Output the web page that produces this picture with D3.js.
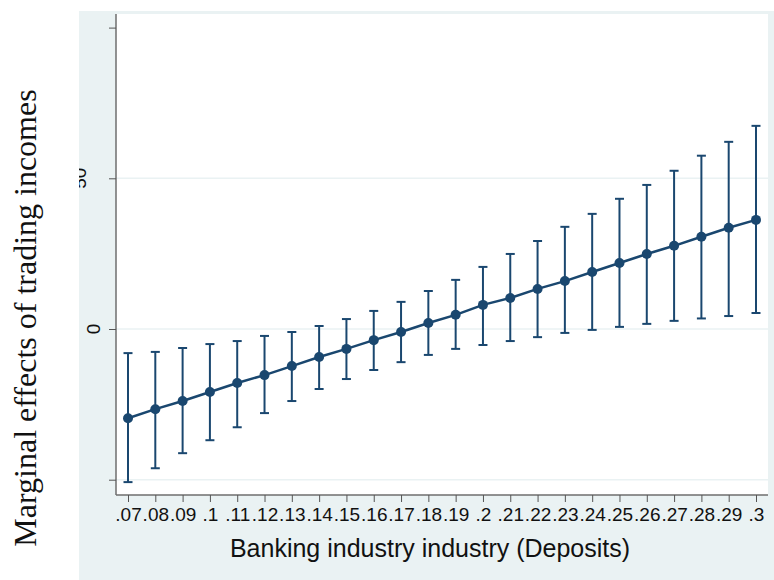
<!DOCTYPE html>
<html>
<head>
<meta charset="utf-8">
<script src="https://cdn.jsdelivr.net/npm/d3@7"></script>
<style>
  body { margin: 0; background: #fff; }
  svg { display: block; }
</style>
</head>
<body>
<script>
// deposit share values on the x axis
var deposits = [.07, .08, .09, .10, .11, .12, .13, .14, .15, .16, .17, .18,
                .19, .20, .21, .22, .23, .24, .25, .26, .27, .28, .29, .30];
var tickLabels = [".07", ".08", ".09", ".1", ".11", ".12", ".13", ".14", ".15", ".16", ".17", ".18",
                  ".19", ".2", ".21", ".22", ".23", ".24", ".25", ".26", ".27", ".28", ".29", ".3"];
// marginal effect and its confidence band
var effect = [-29.6, -26.6, -23.9, -20.9, -17.9, -15.3, -12.3, -9.3, -6.6, -3.7, -1.0, 2.0,
              4.7, 8.0, 10.3, 13.3, 15.9, 18.9, 21.9, 24.9, 27.6, 30.6, 33.6, 36.2];
var upper = [-8.0, -7.6, -6.3, -5.0, -4.0, -2.3, -1.0, 1.0, 3.3, 6.0, 9.0, 12.6,
             16.3, 20.6, 24.9, 29.2, 33.9, 38.2, 43.2, 47.8, 52.5, 57.5, 62.1, 67.4];
var lower = [-50.8, -46.2, -41.2, -36.9, -32.6, -27.9, -23.9, -19.9, -16.6, -13.6, -11.0, -8.6,
             -6.6, -5.3, -4.0, -2.7, -1.3, -0.3, 0.7, 1.7, 2.7, 3.5, 4.3, 5.3];
var yTicks = [-50, 0, 50, 100];
var yGrid = [-50, 0, 50];

var width = 774, height = 580;
var navy = "#1a476f", light = "#eaf2f3";

var svg = d3.select("body").append("svg")
    .attr("width", width)
    .attr("height", height);

// outer light panel and white plot region
svg.append("rect").attr("x", 79).attr("y", 11).attr("width", width - 79).attr("height", height - 11)
    .attr("fill", light);
svg.append("rect").attr("x", 116).attr("y", 14).attr("width", 652).attr("height", 481)
    .attr("fill", "#fff");

var x = d3.scaleLinear().domain([.07, .30]).range([128, 756]);
var y = d3.scaleLinear().domain([0, 50]).range([329, 178.3]);

// grid
svg.selectAll(".grid").data(yGrid).enter().append("line")
    .attr("x1", 116).attr("x2", 768)
    .attr("y1", function(d){ return y(d); }).attr("y2", function(d){ return y(d); })
    .attr("stroke", light).attr("stroke-width", 1.5);

// axes
var xAxis = d3.axisBottom(x).tickValues(deposits).tickFormat(function(d, i){ return tickLabels[i]; })
    .tickSize(7).tickPadding(5);
var gx = svg.append("g").attr("transform", "translate(0,495)").call(xAxis);
gx.select(".domain").attr("d", "M116,0H768").attr("stroke", "#6e6e6e").attr("stroke-width", 1.5);
gx.selectAll(".tick line").attr("stroke", "#555").attr("stroke-width", 1);
gx.selectAll(".tick text").attr("font-family", "Liberation Sans, Arial, sans-serif")
    .attr("font-size", 19).attr("fill", "#111").attr("dy", "0.72em");

var yAxis = d3.axisLeft(y).tickValues(yTicks).tickFormat("").tickSize(7);
var gy = svg.append("g").attr("transform", "translate(116,0)").call(yAxis);
gy.select(".domain").attr("d", "M0,14V495").attr("stroke", "#6e6e6e").attr("stroke-width", 1.5);
gy.selectAll(".tick line").attr("stroke", "#555").attr("stroke-width", 1);

// y tick labels (rotated, partly hidden at the panel edge as in the original)
svg.append("clipPath").attr("id", "panelClip").append("rect")
    .attr("x", 79).attr("y", 0).attr("width", width).attr("height", height);
var yl = svg.append("g").attr("clip-path", "url(#panelClip)");
[[0, 100], [50, 86]].forEach(function(p){
  yl.append("text")
    .attr("transform", "translate(" + p[1] + "," + y(p[0]) + ") rotate(-90)")
    .attr("text-anchor", "middle")
    .attr("font-family", "Liberation Sans, Arial, sans-serif")
    .attr("font-size", 19).attr("fill", "#111")
    .text(p[0]);
});

// error bars
var bars = svg.append("g").attr("stroke", navy).attr("stroke-width", 2);
deposits.forEach(function(d, i){
  var cx = x(d);
  bars.append("line").attr("x1", cx).attr("x2", cx).attr("y1", y(upper[i])).attr("y2", y(lower[i]));
  bars.append("line").attr("x1", cx - 4.5).attr("x2", cx + 4.5).attr("y1", y(upper[i])).attr("y2", y(upper[i]));
  bars.append("line").attr("x1", cx - 4.5).attr("x2", cx + 4.5).attr("y1", y(lower[i])).attr("y2", y(lower[i]));
});

// connecting line and markers
var line = d3.line().x(function(d, i){ return x(deposits[i]); }).y(function(d){ return y(d); });
svg.append("path").datum(effect).attr("d", line)
    .attr("fill", "none").attr("stroke", navy).attr("stroke-width", 2.5);
svg.selectAll(".pt").data(effect).enter().append("circle")
    .attr("cx", function(d, i){ return x(deposits[i]); })
    .attr("cy", function(d){ return y(d); })
    .attr("r", 5).attr("fill", navy);

// titles
svg.append("text").attr("x", 430).attr("y", 557).attr("text-anchor", "middle")
    .attr("font-family", "Liberation Sans, Arial, sans-serif").attr("font-size", 25).attr("fill", "#111")
    .text("Banking industry industry (Deposits)");
svg.append("text").attr("transform", "translate(36,318) rotate(-90)").attr("text-anchor", "middle")
    .attr("font-family", "Liberation Serif, Times New Roman, serif").attr("font-size", 32).attr("fill", "#111")
    .text("Marginal effects of trading incomes");
</script>
</body>
</html>
